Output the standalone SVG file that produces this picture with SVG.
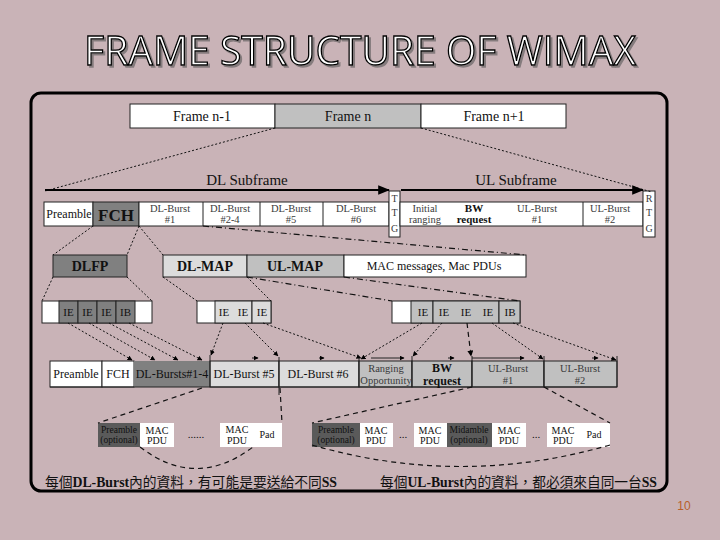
<svg xmlns="http://www.w3.org/2000/svg" width="720" height="540" viewBox="0 0 720 540">
<defs>
<marker id="ah" viewBox="0 0 10 10" refX="9" refY="5" markerWidth="5" markerHeight="5" orient="auto"><path d="M0,0 L10,5 L0,10 z" fill="#000"/></marker>
<marker id="big" viewBox="0 0 10 10" refX="9" refY="5" markerWidth="6" markerHeight="6" orient="auto"><path d="M0,1 L10,5 L0,9 z" fill="#000"/></marker>
<filter id="sh" x="-5%" y="-20%" width="110%" height="140%"><feDropShadow dx="2" dy="2" stdDeviation="0.6" flood-color="#555" flood-opacity="0.6"/></filter>
<style>
.s{font-family:"Liberation Serif","Times New Roman",serif;fill:#111;text-anchor:middle}
.g{fill:#3a3a3a}
.b{font-weight:bold}
.w{fill:#fff;stroke:#222;stroke-width:1}
.d{fill:#808080;stroke:#222;stroke-width:1}
.m{fill:#c0c0c0;stroke:#222;stroke-width:1}
.l{fill:#dcdcdc;stroke:#222;stroke-width:1}
.n{fill:none;stroke:#222;stroke-width:1}
.dot{fill:none;stroke:#111;stroke-width:1;stroke-dasharray:2,2}
.dash{fill:none;stroke:#111;stroke-width:1.2;stroke-dasharray:5,4}
.dd{fill:none;stroke:#111;stroke-width:1.2;stroke-dasharray:6,3,1,3}
.cjk{font-family:"Liberation Serif","Noto Sans CJK TC",serif;fill:#111}
</style>
</defs>
<rect x="0" y="0" width="720" height="540" fill="#c9b3b7"/>
<g id="title">
<text x="360" y="65" font-family="Liberation Sans Narrow,Open Sans,sans-serif" font-size="40" text-anchor="middle" textLength="552" lengthAdjust="spacingAndGlyphs" fill="#fff" stroke="#000" stroke-width="1.3" filter="url(#sh)">FRAME STRUCTURE OF WIMAX</text>
</g>
<rect x="31" y="93" width="636" height="398" rx="10" fill="none" stroke="#000" stroke-width="3"/>

<g id="frames">
<rect x="130" y="104" width="145" height="24" class="w"/>
<rect x="275" y="104" width="146" height="24" class="m"/>
<rect x="421" y="104" width="145" height="24" class="w"/>
<text class="s" x="202" y="121" font-size="14">Frame n-1</text>
<text class="s" x="348" y="121" font-size="14">Frame n</text>
<text class="s" x="494" y="121" font-size="14">Frame n+1</text>
</g>

<g id="subframe-labels">
<text class="s" x="247" y="185" font-size="15">DL Subframe</text>
<text class="s" x="516" y="185" font-size="15">UL Subframe</text>
</g>

<g id="subframe">
<rect x="44" y="202" width="49" height="24" class="w"/>
<rect x="93" y="202" width="46" height="24" class="d"/>
<rect x="139" y="202" width="250" height="24" class="w"/>
<line x1="203" y1="202" x2="203" y2="226" class="n"/>
<line x1="260" y1="202" x2="260" y2="226" class="n"/>
<line x1="323" y1="202" x2="323" y2="226" class="n"/>
<rect x="389" y="191" width="11" height="46" class="w"/>
<rect x="400" y="202" width="243" height="24" class="w"/>
<line x1="583" y1="202" x2="583" y2="226" class="n"/>
<rect x="643" y="191" width="12" height="46" class="w"/>
<text class="s" x="69" y="218" font-size="12">Preamble</text>
<text class="s b" x="116" y="221" font-size="17">FCH</text>
<text class="s g" x="170" y="212" font-size="10.5">DL-Burst</text><text class="s g" x="170" y="223" font-size="10.5">#1</text>
<text class="s g" x="230" y="212" font-size="10.5">DL-Burst</text><text class="s g" x="230" y="223" font-size="10.5">#2-4</text>
<text class="s g" x="291" y="212" font-size="10.5">DL-Burst</text><text class="s g" x="291" y="223" font-size="10.5">#5</text>
<text class="s g" x="356" y="212" font-size="10.5">DL-Burst</text><text class="s g" x="356" y="223" font-size="10.5">#6</text>
<text class="s g" x="394.5" y="202" font-size="10">T</text><text class="s g" x="394.5" y="216" font-size="10">T</text><text class="s g" x="394.5" y="232" font-size="10">G</text>
<text class="s g" x="425" y="212" font-size="10.5">Initial</text><text class="s g" x="425" y="223" font-size="10.5">ranging</text>
<text class="s b" x="474" y="212" font-size="11">BW</text><text class="s b" x="474" y="223" font-size="11">request</text>
<text class="s g" x="537" y="212" font-size="10.5">UL-Burst</text><text class="s g" x="537" y="223" font-size="10.5">#1</text>
<text class="s g" x="610" y="212" font-size="10.5">UL-Burst</text><text class="s g" x="610" y="223" font-size="10.5">#2</text>
<text class="s g" x="649" y="202" font-size="10">R</text><text class="s g" x="649" y="216" font-size="10">T</text><text class="s g" x="649" y="232" font-size="10">G</text>
</g>

<g id="maps">
<rect x="53" y="255" width="74" height="22" class="d"/>
<rect x="163" y="255" width="84" height="22" class="l"/>
<rect x="247" y="255" width="97" height="22" class="m"/>
<rect x="344" y="255" width="182" height="22" class="w"/>
<text class="s b" x="90" y="271" font-size="14">DLFP</text>
<text class="s b" x="205" y="271" font-size="14">DL-MAP</text>
<text class="s b" x="295" y="271" font-size="14">UL-MAP</text>
<text class="s" x="434" y="270" font-size="12">MAC messages, Mac PDUs</text>
</g>

<g id="ie-dlfp">
<rect x="42" y="301" width="110" height="22" class="w"/>
<rect x="59" y="301" width="19" height="22" class="d"/>
<rect x="78" y="301" width="19" height="22" class="d"/>
<rect x="97" y="301" width="19" height="22" class="d"/>
<rect x="116" y="301" width="19" height="22" class="d"/>
<text class="s" x="68.5" y="316" font-size="11">IE</text>
<text class="s" x="87.5" y="316" font-size="11">IE</text>
<text class="s" x="106.5" y="316" font-size="11">IE</text>
<text class="s" x="125.5" y="316" font-size="11">IB</text>
</g>

<g id="ie-dlmap">
<rect x="197" y="301" width="74" height="22" class="w"/>
<rect x="215" y="301" width="37" height="22" class="l"/>
<rect x="252" y="301" width="19" height="22" class="l"/>
<text class="s" x="224" y="316" font-size="11">IE</text>
<text class="s" x="243" y="316" font-size="11">IE</text>
<text class="s" x="262" y="316" font-size="11">IE</text>
</g>

<g id="ie-ulmap">
<rect x="392" y="301" width="128" height="22" class="w"/>
<rect x="411" y="301" width="22" height="22" class="m"/>
<rect x="433" y="301" width="66" height="22" class="m"/>
<rect x="499" y="301" width="21" height="22" class="m"/>
<text class="s" x="423" y="316" font-size="11">IE</text>
<text class="s" x="444" y="316" font-size="11">IE</text>
<text class="s" x="466" y="316" font-size="11">IE</text>
<text class="s" x="488" y="316" font-size="11">IE</text>
<text class="s" x="510" y="316" font-size="11">IB</text>
</g>

<g id="bursts">
<rect x="50" y="361" width="52" height="26" class="w"/>
<rect x="102" y="361" width="32" height="26" class="w"/>
<rect x="134" y="361" width="76" height="26" fill="#808080"/>
<rect x="210" y="361" width="69" height="26" class="l"/>
<rect x="279" y="361" width="80" height="26" class="l"/>
<rect x="359" y="361" width="53" height="26" class="m"/>
<rect x="412" y="361" width="60" height="26" class="m"/>
<rect x="472" y="361" width="72" height="26" class="m"/>
<rect x="544" y="361" width="73" height="26" class="m"/>
<line x1="50" y1="387" x2="617" y2="387" class="n"/>
<line x1="210" y1="355" x2="210" y2="387" class="n"/>
<line x1="279" y1="357" x2="279" y2="395" class="n"/>
<line x1="359" y1="357" x2="359" y2="387" class="n"/>
<line x1="412" y1="356" x2="412" y2="387" class="n"/>
<line x1="472" y1="356" x2="472" y2="387" class="n"/>
<line x1="544" y1="356" x2="544" y2="387" class="n"/>
<line x1="617" y1="356" x2="617" y2="387" class="n"/>
<line x1="371" y1="358" x2="404" y2="358" class="n" marker-end="url(#ah)"/>
<line x1="472" y1="358" x2="524" y2="358" class="n" marker-end="url(#ah)"/>
<line x1="252" y1="358" x2="258" y2="358" class="n" marker-end="url(#ah)"/>
<line x1="319" y1="358" x2="324" y2="358" class="n" marker-end="url(#ah)"/>
<line x1="448" y1="358" x2="454" y2="358" class="n" marker-end="url(#ah)"/>
<line x1="592" y1="358" x2="598" y2="358" class="n" marker-end="url(#ah)"/>
<text class="s" x="76" y="378" font-size="12">Preamble</text>
<text class="s" x="118" y="378" font-size="12">FCH</text>
<text class="s" x="172" y="378" font-size="12">DL-Bursts#1-4</text>
<text class="s" x="244" y="378" font-size="12">DL-Burst #5</text>
<text class="s" x="318" y="378" font-size="12">DL-Burst #6</text>
<text class="s g" x="386" y="372" font-size="10.5">Ranging</text><text class="s g" x="386" y="384" font-size="10.5">Opportunity</text>
<text class="s b" x="442" y="372" font-size="12">BW</text><text class="s b" x="442" y="385" font-size="12">request</text>
<text class="s g" x="508" y="372" font-size="10.5">UL-Burst</text><text class="s g" x="508" y="384" font-size="10.5">#1</text>
<text class="s g" x="580" y="372" font-size="10.5">UL-Burst</text><text class="s g" x="580" y="384" font-size="10.5">#2</text>
</g>

<g id="dl-pdus">
<rect x="98" y="423" width="42" height="24" fill="#5a5a5a"/>
<rect x="140" y="423" width="34" height="24" fill="#fff"/>
<rect x="220" y="423" width="62" height="24" fill="#fff"/>
<text class="s" x="119" y="433" font-size="9.5" fill="#222">Preamble</text><text class="s" x="119" y="443" font-size="9.5" fill="#222">(optional)</text>
<text class="s" x="157" y="434" font-size="10">MAC</text><text class="s" x="157" y="444" font-size="10">PDU</text>
<text class="s" x="196" y="438" font-size="11">......</text>
<text class="s" x="237" y="433" font-size="10">MAC</text><text class="s" x="237" y="444" font-size="10">PDU</text>
<text class="s" x="267" y="438" font-size="10">Pad</text>
</g>

<g id="ul-pdus">
<rect x="312" y="423" width="48" height="24" fill="#5a5a5a"/>
<rect x="360" y="423" width="33" height="24" fill="#fff"/>
<rect x="414" y="423" width="33" height="24" fill="#fff"/>
<rect x="447" y="423" width="45" height="24" fill="#5a5a5a"/>
<rect x="492" y="423" width="34" height="24" fill="#fff"/>
<rect x="547" y="423" width="63" height="24" fill="#fff"/>
<text class="s" x="336" y="433" font-size="9.5" fill="#222">Preamble</text><text class="s" x="336" y="443" font-size="9.5" fill="#222">(optional)</text>
<text class="s" x="376" y="434" font-size="10">MAC</text><text class="s" x="376" y="444" font-size="10">PDU</text>
<text class="s" x="403" y="438" font-size="11">...</text>
<text class="s" x="430" y="434" font-size="10">MAC</text><text class="s" x="430" y="444" font-size="10">PDU</text>
<text class="s" x="469" y="433" font-size="9.5" fill="#222">Midamble</text><text class="s" x="469" y="443" font-size="9.5" fill="#222">(optional)</text>
<text class="s" x="509" y="434" font-size="10">MAC</text><text class="s" x="509" y="444" font-size="10">PDU</text>
<text class="s" x="536" y="438" font-size="11">...</text>
<text class="s" x="563" y="434" font-size="10">MAC</text><text class="s" x="563" y="444" font-size="10">PDU</text>
<text class="s" x="594" y="438" font-size="10">Pad</text>
</g>

<g id="connectors">
<line x1="275" y1="128" x2="45" y2="191" class="dot"/>
<line x1="421" y1="128" x2="652" y2="192" class="dot"/>
<line x1="45" y1="190" x2="389" y2="190" stroke="#000" stroke-width="2" marker-end="url(#big)"/>
<line x1="401" y1="190" x2="643" y2="190" stroke="#000" stroke-width="2" marker-end="url(#big)"/>
<line x1="93" y1="226" x2="53" y2="255" class="dot"/>
<line x1="139" y1="226" x2="127" y2="255" class="dot"/>
<line x1="139" y1="226" x2="163" y2="255" class="dot"/>
<line x1="203" y1="226" x2="526" y2="255" class="dd"/>
<line x1="53" y1="277" x2="42" y2="301" class="dot"/>
<line x1="127" y1="277" x2="152" y2="301" class="dot"/>
<line x1="163" y1="277" x2="197" y2="301" class="dot"/>
<line x1="247" y1="277" x2="271" y2="301" class="dot"/>
<line x1="247" y1="277" x2="392" y2="301" class="dd"/>
<line x1="344" y1="277" x2="520" y2="301" class="dd"/>
<line x1="68" y1="323" x2="132" y2="360" class="dot" marker-end="url(#ah)"/>
<line x1="89" y1="323" x2="155" y2="360" class="dot" marker-end="url(#ah)"/>
<line x1="109" y1="323" x2="178" y2="360" class="dot" marker-end="url(#ah)"/>
<line x1="129" y1="323" x2="202" y2="360" class="dot" marker-end="url(#ah)"/>
<line x1="223" y1="323" x2="211" y2="355" class="dot" marker-end="url(#ah)"/>
<line x1="245" y1="323" x2="278" y2="356" class="dot" marker-end="url(#ah)"/>
<line x1="263" y1="323" x2="361" y2="358" class="dot" marker-end="url(#ah)"/>
<line x1="422" y1="323" x2="361" y2="359" class="dot" marker-end="url(#ah)"/>
<line x1="442" y1="323" x2="413" y2="356" class="dot" marker-end="url(#ah)"/>
<line x1="467" y1="323" x2="471" y2="356" class="dash" marker-end="url(#ah)"/>
<line x1="492" y1="323" x2="543" y2="359" class="dot" marker-end="url(#ah)"/>
<line x1="513" y1="323" x2="616" y2="360" class="dot" marker-end="url(#ah)"/>
<line x1="202" y1="388" x2="98" y2="423" class="dash"/>
<line x1="280" y1="388" x2="282" y2="423" class="dash"/>
<path d="M140,447 Q196,490 253,447" class="dash"/>
<line x1="472" y1="387" x2="312" y2="423" class="dash"/>
<line x1="544" y1="387" x2="610" y2="423" class="dash"/>
<path d="M312,445 Q461,488 610,445" class="dash"/>
</g>

<g id="notes">
<text class="cjk" x="45" y="487" font-size="13.8" textLength="292" lengthAdjust="spacingAndGlyphs">每個<tspan font-weight="bold">DL-Burst</tspan>內的資料，有可能是要送給不同<tspan font-weight="bold">SS</tspan></text>
<text class="cjk" x="380" y="487" font-size="13.8" textLength="277" lengthAdjust="spacingAndGlyphs">每個<tspan font-weight="bold">UL-Burst</tspan>內的資料，都必須來自同一台<tspan font-weight="bold">SS</tspan></text>
<text x="684" y="510" font-family="Liberation Sans,sans-serif" font-size="12" fill="#b8602a" text-anchor="middle">10</text>
</g>
</svg>
